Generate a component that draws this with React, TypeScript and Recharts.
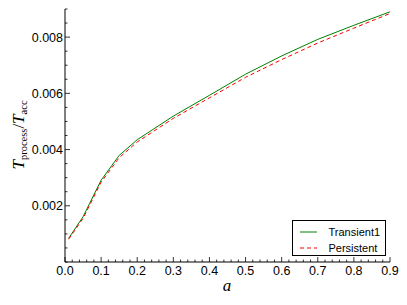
import { LineChart, Line, XAxis, YAxis, Legend, Label } from 'recharts';

const aValues = [0.01, 0.05, 0.1, 0.15, 0.2, 0.3, 0.4, 0.5, 0.6, 0.7, 0.8, 0.9];
const transient1 = [0.00084, 0.00161, 0.00291, 0.00379, 0.00435, 0.00519, 0.00593, 0.00668, 0.00733, 0.00792, 0.00842, 0.0089];
const persistent = [0.00081, 0.00155, 0.00284, 0.00371, 0.00427, 0.00511, 0.00584, 0.00657, 0.0072, 0.00779, 0.00832, 0.00884];

const xMajor = [0, 0.1, 0.2, 0.3, 0.4, 0.5, 0.6, 0.7, 0.8, 0.9];
const yMajor = [0.002, 0.004, 0.006, 0.008];

// minor ticks: x every 0.02, y every 0.0005
const xTicks = Array.from({ length: 46 }, (_, i) => +(i * 0.02).toFixed(2));
const yTicks = Array.from({ length: 19 }, (_, i) => +(i * 0.0005).toFixed(4));

const data = aValues.map((a, i) => ({
  a,
  transient: transient1[i],
  persistent: persistent[i],
}));

const FONT = '"Liberation Sans", Arial, sans-serif';
const MATH = '"Liberation Serif", "Times New Roman", serif';

const isXMajor = (v: number) => xMajor.some((m) => Math.abs(m - v) < 1e-6);
const isYMajor = (v: number) => yMajor.some((m) => Math.abs(m - v) < 1e-9);

function XTick(props: any) {
  const { x, y, payload, side } = props;
  const major = isXMajor(payload.value);
  const len = major ? 5 : 2.5;
  const dir = side === 'top' ? 1 : -1;
  return (
    <g>
      <line x1={x} x2={x} y1={y} y2={y + dir * len} stroke="#000" strokeWidth={0.8} />
      {side !== 'top' && major && (
        <text x={x} y={y + 13} textAnchor="middle" fontSize={12.5} fontFamily={FONT} fill="#000">
          {payload.value.toFixed(1)}
        </text>
      )}
    </g>
  );
}

function YTick(props: any) {
  const { x, y, payload, side } = props;
  const major = isYMajor(payload.value);
  const len = major ? 5 : 2.5;
  const dir = side === 'right' ? -1 : 1;
  return (
    <g>
      <line x1={x} x2={x + dir * len} y1={y} y2={y} stroke="#000" strokeWidth={0.8} />
      {side !== 'right' && major && (
        <text x={x - 2} y={y + 4.5} textAnchor="end" fontSize={12.5} fontFamily={FONT} fill="#000">
          {payload.value.toFixed(3)}
        </text>
      )}
    </g>
  );
}

function YLabel() {
  return (
    <text transform="rotate(-90)" x={-135} y={24} textAnchor="middle" fontFamily={MATH} fill="#000">
      <tspan fontSize={17} fontStyle="italic">T</tspan>
      <tspan fontSize={10.5} dy={3}>process</tspan>
      <tspan fontSize={17} dy={-3}>/</tspan>
      <tspan fontSize={17} fontStyle="italic">T</tspan>
      <tspan fontSize={10.5} dy={3}>acc</tspan>
    </text>
  );
}

function LegendBox() {
  const rows = [
    { name: 'Transient1', color: '#008000', dash: undefined, y: 10.5 },
    { name: 'Persistent', color: '#ff0000', dash: '4 3', y: 26.5 },
  ];
  return (
    <div
      style={{
        position: 'relative',
        width: 94,
        height: 36,
        border: '1px solid #000',
        background: '#fff',
        boxSizing: 'border-box',
        fontFamily: FONT,
        fontSize: 11,
      }}
    >
      {rows.map((r) => (
        <div key={r.name}>
          <svg width={20} height={4} style={{ position: 'absolute', left: 7, top: r.y - 2 }}>
            <line x1={0} x2={17} y1={2} y2={2} stroke={r.color} strokeWidth={1} strokeDasharray={r.dash} />
          </svg>
          <span style={{ position: 'absolute', left: 35.5, top: r.y - 7, lineHeight: '14px', whiteSpace: 'nowrap' }}>
            {r.name}
          </span>
        </div>
      ))}
    </div>
  );
}

export default function App() {
  return (
    <div style={{ position: 'absolute', left: 0, top: 0, background: '#fff' }}>
      <LineChart width={407} height={305} data={data} margin={{ top: 9, right: 17, bottom: 0, left: 0 }}>
        <XAxis
          xAxisId="bottom"
          dataKey="a"
          type="number"
          domain={[0, 0.9]}
          ticks={xTicks}
          interval={0}
          height={43}
          tickLine={false}
          tickSize={0}
          tickMargin={0}
          axisLine={{ stroke: '#000', strokeWidth: 1 }}
          tick={<XTick side="bottom" />}
        >
          <Label
            content={() => (
              <text x={227} y={291} textAnchor="middle" fontFamily={MATH} fontStyle="italic" fontSize={17} fill="#000">
                a
              </text>
            )}
          />
        </XAxis>
        <XAxis
          xAxisId="top"
          orientation="top"
          dataKey="a"
          type="number"
          domain={[0, 0.9]}
          ticks={xTicks}
          interval={0}
          height={0}
          tickLine={false}
          tickSize={0}
          tickMargin={0}
          axisLine={{ stroke: '#000', strokeWidth: 1 }}
          tick={<XTick side="top" />}
        />
        <YAxis
          yAxisId="left"
          type="number"
          domain={[0, 0.009]}
          ticks={yTicks}
          interval={0}
          width={65}
          tickLine={false}
          tickSize={0}
          tickMargin={0}
          axisLine={{ stroke: '#000', strokeWidth: 1 }}
          tick={<YTick side="left" />}
        >
          <Label content={() => <YLabel />} />
        </YAxis>
        <YAxis
          yAxisId="right"
          orientation="right"
          type="number"
          domain={[0, 0.009]}
          ticks={yTicks}
          interval={0}
          width={0}
          tickLine={false}
          tickSize={0}
          tickMargin={0}
          axisLine={{ stroke: '#000', strokeWidth: 1 }}
          tick={<YTick side="right" />}
        />
        <Line
          xAxisId="bottom"
          yAxisId="left"
          type="linear"
          dataKey="transient"
          name="Transient1"
          stroke="#008000"
          strokeWidth={1}
          dot={false}
          isAnimationActive={false}
        />
        <Line
          xAxisId="bottom"
          yAxisId="left"
          type="linear"
          dataKey="persistent"
          name="Persistent"
          stroke="#ff0000"
          strokeWidth={1}
          strokeDasharray="4 3"
          dot={false}
          isAnimationActive={false}
        />
        <Legend
          layout="vertical"
          align="center"
          verticalAlign="middle"
          wrapperStyle={{ position: 'absolute', left: 292, top: 220, width: 94 }}
          content={() => <LegendBox />}
        />
      </LineChart>
    </div>
  );
}
